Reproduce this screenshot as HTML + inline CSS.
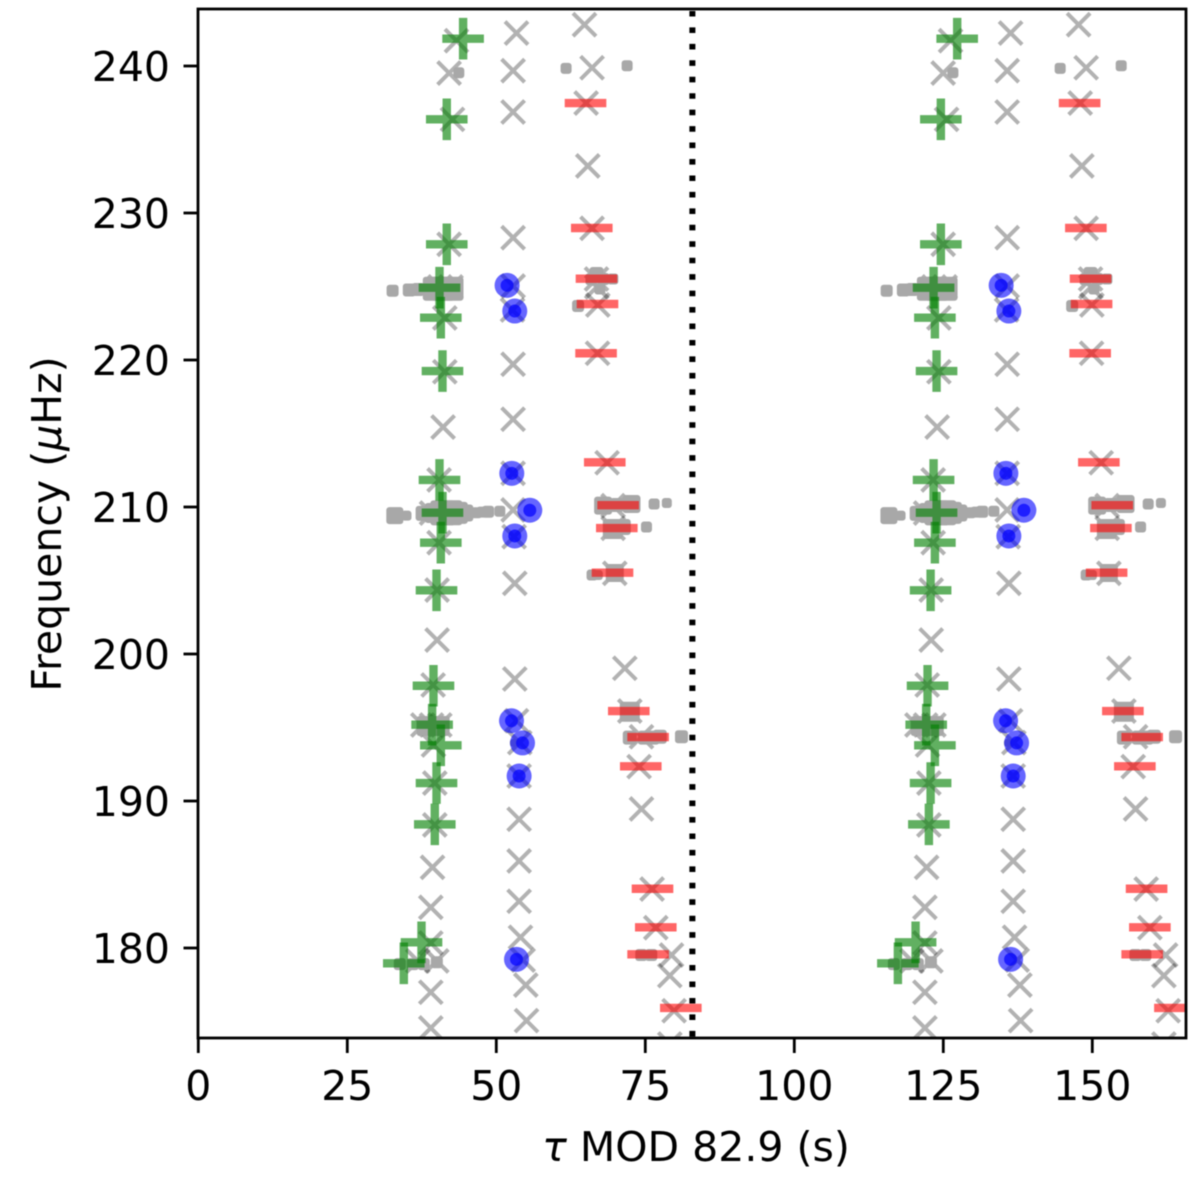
<!DOCTYPE html>
<html>
<head>
<meta charset="utf-8">
<title>Frequency vs tau MOD 82.9</title>
<style>
html,body{margin:0;padding:0;background:#fff;}
svg{display:block;filter:blur(0.4px);}
text{font-family:"DejaVu Sans","Liberation Sans",sans-serif;fill:#000;}
</style>
</head>
<body>
<svg id="chart" xmlns="http://www.w3.org/2000/svg" width="1200" height="1187" viewBox="0 0 1200 1187">
  <defs>
    <clipPath id="plot-clip"><rect x="198" y="9" width="988" height="1029"></rect></clipPath>
  </defs>
  <rect x="0" y="0" width="1200" height="1187" fill="#fff"></rect>
  <g id="marks" clip-path="url(#plot-clip)"></g>
  <rect x="198" y="9" width="988" height="1029" fill="none" stroke="#000" stroke-width="2.8"></rect>
  <g id="ticks"></g>
  <text x="696" y="1161" text-anchor="middle" font-size="41"><tspan font-style="italic">τ</tspan> MOD 82.9 (s)</text>
  <text transform="translate(61,524) rotate(-90)" text-anchor="middle" font-size="41">Frequency (<tspan font-style="italic">μ</tspan>Hz)</text>
</svg>
<script>
const period = 82.9;
const xTickValues = [0, 25, 50, 75, 100, 125, 150];
const yTickValues = [180, 190, 200, 210, 220, 230, 240];

const greenTau = [44.43,41.69,41.69,40.47,40.69,40.97,40.47,40.97,40.69,39.97,39.46,39.23,40.69,39.97,39.68,37.45,34.48];
const greenFreq = [241.86,236.37,227.87,224.92,222.88,219.25,211.84,209.61,207.57,204.33,197.84,195.19,193.79,191.22,188.41,180.39,178.96];

const redTau = [64.97,66.02,66.81,66.98,66.74,68.2,70.44,70.22,69.5,72.23,75.47,74.24,76.21,76.76,75.47,80.96];
const redFreq = [237.48,228.98,225.53,223.81,220.46,213.04,210.12,208.57,205.53,196.12,194.35,192.36,184.03,181.41,179.57,175.92];

const blueTau = [51.81,53.1,52.6,55.62,53.1,52.55,54.4,53.83,53.39];
const blueFreq = [225.08,223.33,212.29,209.78,208.03,195.46,193.95,191.7,179.23];

const crossTau = [64.8,53.39,43.32,42.08,52.82,66.07,65.07,52.82,42.65,65.35,66.07,52.82,42.08,52.82,52.72,40.52,42.4,41.36,66.81,66.86,67.03,66.98,52.82,41.36,52.82,41.07,68.59,52.82,40.4,69.6,52.82,39.13,69.6,52.99,40.4,69.88,53.1,40.07,40.07,71.56,53.1,39.4,72.4,39.13,37.67,40.52,53.39,74.36,53.94,39.46,73.96,53.83,39.68,74.36,53.83,39.68,39.3,53.83,53.83,39.01,54.06,76.14,76.76,39.01,79.4,54.5,79.11,54.95,39.01,79.83,55.07,39.01,79.11,36.83,40.02];
const crossFreq = [242.81,242.24,241.72,239.52,239.68,239.88,237.48,236.87,236.37,233.2,228.96,228.32,227.87,225.03,223.4,224.97,224.97,222.86,225.51,224.97,223.74,220.46,219.71,219.2,215.97,215.44,213.01,212.29,211.84,210.09,209.8,209.59,208.55,207.98,207.57,205.49,204.81,204.35,200.95,199.03,198.3,197.89,196.12,195.17,195.17,195.17,195.46,194.37,193.97,193.81,192.34,191.7,191.22,189.46,188.76,188.37,185.49,185.92,183.18,182.77,180.73,184.01,181.38,180.34,179.52,179.18,178.12,177.48,176.99,175.73,175.06,174.56,173.47,179.12,179.12];

const dotTau = [43.71,61.71,71.95,32.6,35.4,36.9,39.68,41.03,42.48,65.97,67.97,69.55,66.81,67.37,63.72,32.97,34.93,37.72,39.68,41.03,42.2,43.38,44.71,46.68,47.6,48.62,50.59,67.92,70.22,72.68,76.48,78.61,75.2,69.55,71.22,66.07,67.03,69.88,72.4,72.4,74.92,76.2,77.43,81.07,38.3,40.5,52.94,74.33,76.0,33.81,35.99,37.83,40.02];
const dotFreq = [239.54,239.84,240.02,224.71,224.76,224.8,224.85,224.85,224.85,225.49,225.51,225.51,225.85,224.83,223.67,209.41,209.41,209.57,209.59,209.6,209.61,209.6,209.59,209.61,209.65,209.68,209.71,210.09,210.14,210.2,210.2,210.27,208.64,208.5,208.64,205.37,205.37,205.51,196.07,194.31,194.31,194.31,194.37,194.37,195.1,195.1,193.95,179.52,179.52,178.9,178.9,178.9,179.03];
const dotAmplitude = [11,11,11,12,13,13,24,24,24,12,12,11,14,11,12,17,10,15,20,25,25,22,17,11,11,12,11,18,14,18,11,10,11,20,16,11,10,18,20,14,14,14,14,13,20,20,8,12,12,12,12,12,12];

const SVG_NS = 'http://www.w3.org/2000/svg';
const marks = document.getElementById('marks');
const ticks = document.getElementById('ticks');

function xScale(tau) { return 198.3 + tau * 5.96; }
function yScale(freq) { return 66 + (240 - freq) * 14.7; }

function make(tag, attrs, parent) {
  const el = document.createElementNS(SVG_NS, tag);
  for (const k in attrs) el.setAttribute(k, attrs[k]);
  parent.appendChild(el);
  return el;
}

[0, period].forEach(function (shift) {
  crossTau.forEach(function (t, i) {
    const cx = xScale(t + shift), cy = yScale(crossFreq[i]), r = 11.5;
    const el = make('path', {
      d: 'M' + (cx - r) + ' ' + (cy - r) + 'L' + (cx + r) + ' ' + (cy + r) +
         'M' + (cx - r) + ' ' + (cy + r) + 'L' + (cx + r) + ' ' + (cy - r),
      stroke: '#000', 'stroke-opacity': 0.3, 'stroke-width': 4, fill: 'none'
    }, marks);
    
    
  });
  dotTau.forEach(function (t, i) {
    const side = dotAmplitude[i];
    const el = make('rect', {
      x: xScale(t + shift) - side / 2, y: yScale(dotFreq[i]) - side / 2,
      width: side, height: side, rx: 3, fill: '#a8a8a8'
    }, marks);
    
    
  });
  blueTau.forEach(function (t, i) {
    const cx = xScale(t + shift), cy = yScale(blueFreq[i]);
    const outer = make('circle', { cx: cx, cy: cy, r: 12.5, fill: '#0000ff', 'fill-opacity': 0.6 }, marks);
    
    
    const inner = make('circle', { cx: cx, cy: cy, r: 6.5, fill: '#0000ff', 'fill-opacity': 0.7 }, marks);
    
    
  });
  greenTau.forEach(function (t, i) {
    const cx = xScale(t + shift), cy = yScale(greenFreq[i]), r = 20.8;
    const el = make('path', {
      d: 'M' + (cx - r) + ' ' + cy + 'L' + (cx + r) + ' ' + cy +
         'M' + cx + ' ' + (cy - r) + 'L' + cx + ' ' + (cy + r),
      stroke: '#008000', 'stroke-opacity': 0.62, 'stroke-width': 8.4, fill: 'none'
    }, marks);
    
    
  });
  redTau.forEach(function (t, i) {
    const cx = xScale(t + shift), cy = yScale(redFreq[i]), r = 20.8;
    const el = make('path', {
      d: 'M' + (cx - r) + ' ' + cy + 'L' + (cx + r) + ' ' + cy,
      stroke: '#ff0000', 'stroke-opacity': 0.6, 'stroke-width': 8.4, fill: 'none'
    }, marks);
    
    
  });
});

const periodLine = make('line', {
  x1: xScale(period), x2: xScale(period), y1: 9, y2: 1038,
  stroke: '#000', 'stroke-width': 6, 'stroke-dasharray': '5.6 10.85', 'stroke-dashoffset': 14.5
}, marks);



xTickValues.forEach(function (v) {
  const x = xScale(v);
  const tick = make('line', { x1: x, x2: x, y1: 1038, y2: 1053, stroke: '#000', 'stroke-width': 2.8 }, ticks);
  
  
  const label = make('text', { x: x, y: 1100, 'text-anchor': 'middle', 'font-size': 41 }, ticks);
  label.textContent = String(v);
  
  
});

yTickValues.forEach(function (v) {
  const y = yScale(v);
  const tick = make('line', { x1: 183.5, x2: 198, y1: y, y2: y, stroke: '#000', 'stroke-width': 2.8 }, ticks);
  
  
  const label = make('text', { x: 170, y: y + 15, 'text-anchor': 'end', 'font-size': 41 }, ticks);
  label.textContent = String(v);
  
  
});
</script>
</body>
</html>
